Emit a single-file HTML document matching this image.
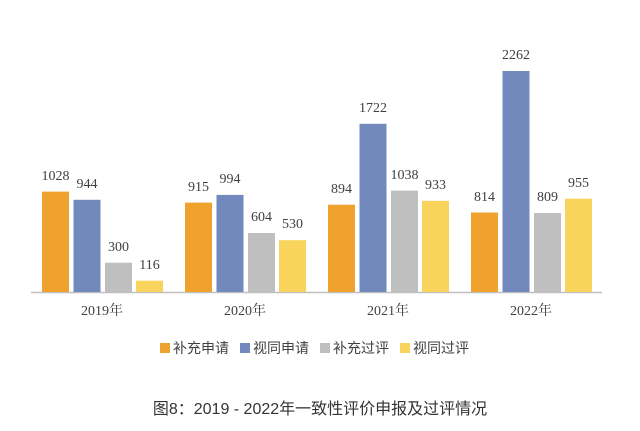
<!DOCTYPE html>
<html><head><meta charset="utf-8"><style>
body{margin:0;background:#fff;}
</style></head><body>
<svg width="640" height="426" xmlns="http://www.w3.org/2000/svg">
<rect width="640" height="426" fill="#fff"/>
<g id="bars"></g>
<line x1="31" y1="292.5" x2="602" y2="292.5" stroke="#bfbfbf" stroke-width="1.5"/>
<g font-family="Liberation Serif, Noto Serif CJK SC, serif" font-size="14" fill="#404040" text-anchor="middle">
<!-- 2019 -->
<rect x="42" y="191.6" width="27" height="100.4" fill="#F0A22E"/>
<rect x="73.5" y="199.8" width="27" height="92.2" fill="#7189BC"/>
<rect x="105" y="262.7" width="27" height="29.3" fill="#BFBFBF"/>
<rect x="136" y="280.7" width="27" height="11.3" fill="#F8D45C"/>
<text x="55.5" y="180">1028</text><text x="87" y="188">944</text><text x="118.5" y="251">300</text><text x="149.5" y="269">116</text>
<!-- 2020 -->
<rect x="185" y="202.6" width="27" height="89.4" fill="#F0A22E"/>
<rect x="216.5" y="194.9" width="27" height="97.1" fill="#7189BC"/>
<rect x="248" y="233" width="27" height="59" fill="#BFBFBF"/>
<rect x="279" y="240.2" width="27" height="51.8" fill="#F8D45C"/>
<text x="198.5" y="191">915</text><text x="230" y="183">994</text><text x="261.5" y="221">604</text><text x="292.5" y="228">530</text>
<!-- 2021 -->
<rect x="328" y="204.7" width="27" height="87.3" fill="#F0A22E"/>
<rect x="359.5" y="123.8" width="27" height="168.2" fill="#7189BC"/>
<rect x="391" y="190.6" width="27" height="101.4" fill="#BFBFBF"/>
<rect x="422" y="200.8" width="27" height="91.2" fill="#F8D45C"/>
<text x="341.5" y="193">894</text><text x="373" y="112">1722</text><text x="404.5" y="179">1038</text><text x="435.5" y="189">933</text>
<!-- 2022 -->
<rect x="471" y="212.5" width="27" height="79.5" fill="#F0A22E"/>
<rect x="502.5" y="71" width="27" height="221" fill="#7189BC"/>
<rect x="534" y="213" width="27" height="79" fill="#BFBFBF"/>
<rect x="565" y="198.7" width="27" height="93.3" fill="#F8D45C"/>
<text x="484.5" y="201">814</text><text x="516" y="59">2262</text><text x="547.5" y="201">809</text><text x="578.5" y="187">955</text>
<text x="102" y="315">2019年</text><text x="245" y="315">2020年</text><text x="388" y="315">2021年</text><text x="531" y="315">2022年</text>
</g>
<g font-family="Liberation Sans, Noto Sans CJK SC, sans-serif" font-size="14" fill="#404040">
<rect x="160" y="343" width="10" height="10" fill="#F0A22E"/><text x="173" y="353">补充申请</text>
<rect x="240" y="343" width="10" height="10" fill="#7189BC"/><text x="253" y="353">视同申请</text>
<rect x="320" y="343" width="10" height="10" fill="#BFBFBF"/><text x="333" y="353">补充过评</text>
<rect x="400" y="343" width="10" height="10" fill="#F8D45C"/><text x="413" y="353">视同过评</text>
</g>
<text x="320" y="414" text-anchor="middle" font-family="Liberation Sans, Noto Sans CJK SC, sans-serif" font-size="16" fill="#333">图8：2019 - 2022年一致性评价申报及过评情况</text>
</svg>
</body></html>
